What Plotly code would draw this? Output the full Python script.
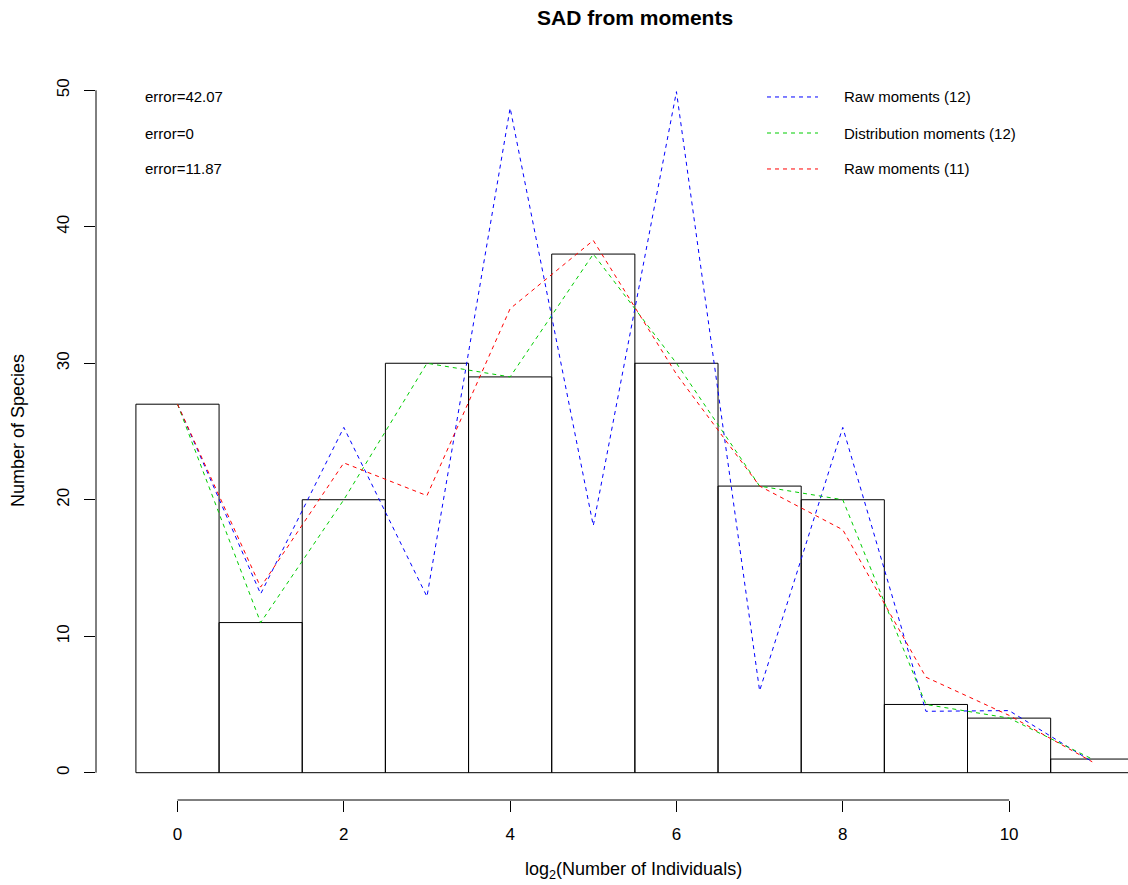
import plotly.graph_objects as go

# ---- data ----
log2_bins = [0, 1, 2, 3, 4, 5, 6, 7, 8, 9, 10, 11]
species_counts = [27, 11, 20, 30, 29, 38, 30, 21, 20, 5, 4, 1]
raw_moments_12 = [27, 13.1, 25.3, 12.9, 48.7, 18.1, 49.9, 6.0, 25.3, 4.5, 4.55, 0.8]
dist_moments_12 = [27, 11, 20, 30, 29, 38, 30, 21, 20, 5, 4, 1]
raw_moments_11 = [27, 13.6, 22.7, 20.3, 34.0, 39.0, 29.2, 21.0, 17.8, 7.0, 4.2, 0.8]
series_names = ["Raw moments (12)", "Distribution moments (12)", "Raw moments (11)"]
error_labels = ["error=42.07", "error=0", "error=11.87"]
x_ticks = [0, 2, 4, 6, 8, 10]
y_ticks = [0, 10, 20, 30, 40, 50]

FONT = "Liberation Sans, Arial, sans-serif"
colors = ["#0000FF", "#00CD00", "#FF0000"]
DASH = "4px,4px"

fig = go.Figure()
fig.add_trace(go.Bar(
    x=log2_bins, y=species_counts, width=1,
    marker=dict(color="rgba(255,255,255,0)", line=dict(color="black", width=1)),
    showlegend=False, hoverinfo="x+y"))

for i, (name, vals) in enumerate(zip(series_names, [raw_moments_12, dist_moments_12, raw_moments_11])):
    fig.add_trace(go.Scatter(
        x=log2_bins, y=vals, mode="lines", name=name, showlegend=False,
        line=dict(color=colors[i], width=1, dash=DASH)))

# error annotations (top-left)
row_y = [0.9539, 0.9050, 0.8562]
for i, txt in enumerate(error_labels):
    fig.add_annotation(x=0.0455, y=row_y[i], xref="paper", yref="paper",
                       text=txt, showarrow=False, xanchor="left", yanchor="middle",
                       font=dict(family=FONT, size=15, color="black"))

# legend (R-style, top-right, no box)
for i, name in enumerate(series_names):
    fig.add_shape(type="line", xref="paper", yref="paper", x0=0.6502, x1=0.6996,
                  y0=row_y[i], y1=row_y[i], line=dict(color=colors[i], width=1, dash=DASH))
    fig.add_annotation(x=0.7229, y=row_y[i], xref="paper", yref="paper",
                       text=name, showarrow=False, xanchor="left", yanchor="middle",
                       font=dict(family=FONT, size=15, color="black"))

# axis lines (R-style, spanning tick range)
fig.add_shape(type="line", xref="x", yref="paper", x0=x_ticks[0], x1=x_ticks[-1], y0=0, y1=0,
              line=dict(color="black", width=1))
fig.add_shape(type="line", xref="paper", yref="y", x0=0, x1=0, y0=y_ticks[0], y1=y_ticks[-1],
              line=dict(color="black", width=1))

# axis titles
fig.add_annotation(x=0.5213, y=-0.0963, xref="paper", yref="paper",
                   text="log<sub>2</sub>(Number of Individuals)", showarrow=False,
                   xanchor="center", yanchor="middle", font=dict(family=FONT, size=18, color="black"))
fig.add_annotation(x=-0.0756, y=0.502, xref="paper", yref="paper",
                   text="Number of Species", showarrow=False, textangle=-90,
                   xanchor="center", yanchor="middle", font=dict(family=FONT, size=18, color="black"))

fig.update_layout(
    width=1128, height=885,
    margin=dict(l=96, r=0, t=63, b=85),
    plot_bgcolor="white", paper_bgcolor="white",
    title=dict(text="<b>SAD from moments</b>", x=0.563, xref="container", xanchor="center",
               y=1 - 18 / 885, yref="container", yanchor="middle",
               font=dict(family=FONT, size=21, color="black")),
    xaxis=dict(range=[-0.98, 11.43], tickvals=x_ticks, ticks="outside", ticklen=11,
               tickcolor="black", showgrid=False, zeroline=False, showline=False,
               tickfont=dict(family=FONT, size=17, color="black"), ticklabelstandoff=8),
    yaxis=dict(range=[-2, 52], tickvals=y_ticks, ticks="outside", ticklen=11,
               tickcolor="black", showgrid=False, zeroline=False, showline=False,
               tickangle=-90, tickfont=dict(family=FONT, size=17, color="black"),
               ticklabelstandoff=8),
    showlegend=False,
)

fig.write_html("out.html")
